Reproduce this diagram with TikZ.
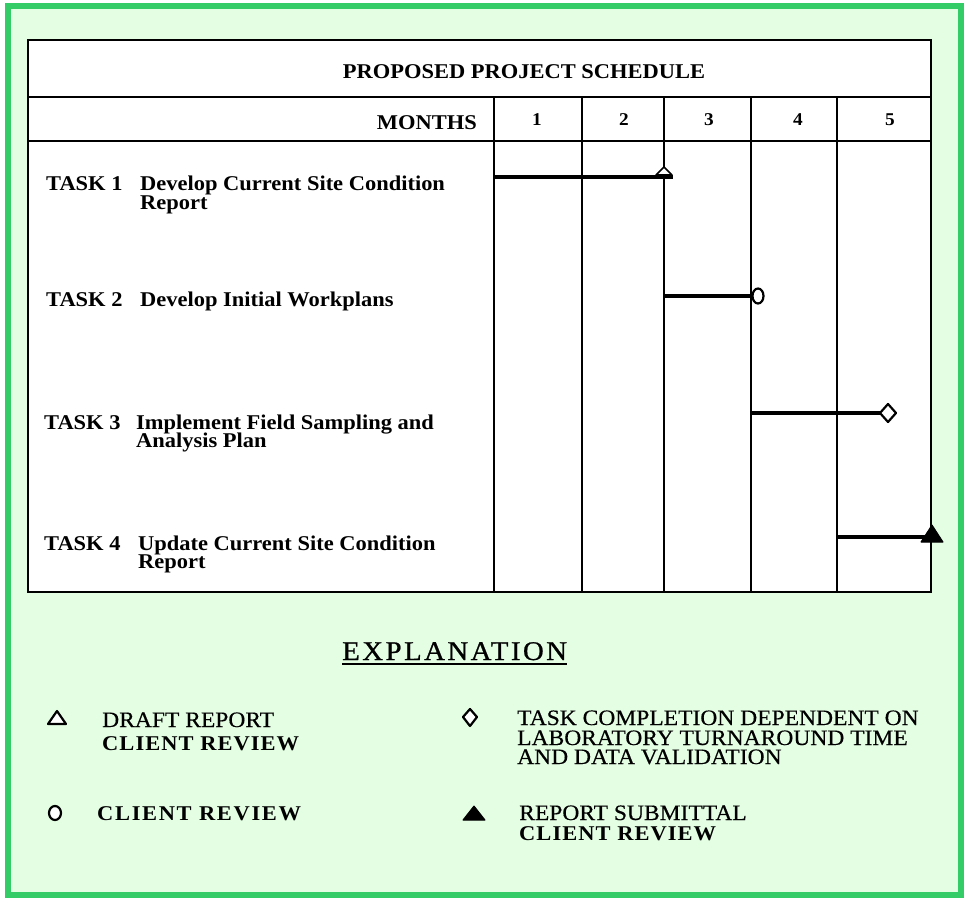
\documentclass[tikz,border=0pt]{standalone}
\usepackage{fontspec}
\setmainfont{Liberation Serif}
\newfontfamily\tfont{Liberation Serif}[FakeStretch=1.07]
\definecolor{gborder}{HTML}{33CC66}
\definecolor{gfill}{HTML}{E4FEE4}
\begin{document}
\begin{tikzpicture}[x=1pt,y=-1pt,
  gridline/.style={line width=2pt, black},
  bar/.style={line width=4.6pt, black},
  omark/.style={line width=2.2pt, black, fill=white, line join=round},
  fmark/.style={black, fill=black, line join=round, line width=1pt},
  lbl/.style={anchor=base west, inner sep=0pt, font={\tfont\bfseries\fontsize{21pt}{21pt}\selectfont}},
  firstline/.style={text depth=0pt},
  secondline/.style={text height=10pt},
  head/.style={inner sep=0pt, font={\tfont\bfseries\fontsize{21pt}{21pt}\selectfont}},
  num/.style={anchor=base, inner sep=0pt, font={\tfont\bfseries\fontsize{18pt}{18pt}\selectfont}},
  legr/.style={anchor=base west, inner sep=0pt, text depth=0pt, text height=12pt, font={\tfont\fontsize{22pt}{22pt}\selectfont\addfontfeatures{FakeBold=0.4}}},
  legb/.style={anchor=base west, inner sep=0pt, text depth=0pt, text height=12pt, font={\tfont\bfseries\fontsize{21pt}{21pt}\selectfont\addfontfeatures{LetterSpace=5}}},
]
\useasboundingbox (0,0) rectangle (967,899);
\fill[white] (0,0) rectangle (967,899);
\draw[gborder, line width=6pt, fill=gfill] (8,6) rectangle (961,895);

% table
\draw[gridline, fill=white] (28,40) rectangle (931,592);
\draw[gridline] (28,97) -- (931,97);
\draw[gridline] (28,141) -- (931,141);
\foreach \x in {494,582,664,751,837} \draw[gridline] (\x,97) -- (\x,592);

\node[head, anchor=base] (title) at (524,79) {PROPOSED PROJECT SCHEDULE};
\node[head, anchor=base east] (months) at (477,129) {MONTHS};
\node[num] (m1) at (537,125) {1};
\node[num] (m2) at (624,125) {2};
\node[num] (m3) at (709,125) {3};
\node[num] (m4) at (798,125) {4};
\node[num] (m5) at (890,125) {5};

% task labels
\node[lbl] (t1a) at (46,190) {TASK 1};
\node[lbl, firstline] (t1b) at (140,190) {Develop Current Site Condition};
\node[lbl, secondline] (t1c) at (140,209) {Report};
\node[lbl] (t2a) at (46,306) {TASK 2};
\node[lbl] (t2b) at (140,306) {Develop Initial Workplans};
\node[lbl] (t3a) at (44,429) {TASK 3};
\node[lbl, firstline] (t3b) at (136,429) {Implement Field Sampling and};
\node[lbl, secondline] (t3c) at (136,447) {Analysis Plan};
\node[lbl] (t4a) at (44,550) {TASK 4};
\node[lbl, firstline] (t4b) at (138,550) {Update Current Site Condition};
\node[lbl, secondline] (t4c) at (138,568) {Report};

% bars
\coordinate (b1s) at (494,177); \coordinate (b1e) at (673,177);
\coordinate (b2s) at (664,296); \coordinate (b2e) at (752,296);
\coordinate (b3s) at (751,413); \coordinate (b3e) at (881,413);
\coordinate (b4s) at (837,537); \coordinate (b4e) at (926,537);
\draw[bar] (b1s) -- (b1e);
\draw[bar] (b2s) -- (b2e);
\draw[bar] (b3s) -- (b3e);
\draw[bar] (b4s) -- (b4e);

% markers on bars
\draw[omark, line width=1.6pt] (664,167) -- (672,175) -- (656,175) -- cycle;
\draw[omark] (758,296) ellipse [x radius=5.5, y radius=7.5];
\draw[omark] (880,413) -- (888,404) -- (896,413) -- (888,422) -- cycle;
\draw[fmark] (932,525) -- (943,542) -- (921,542) -- cycle;

% explanation
\node[anchor=base west, inner sep=0pt, font={\tfont\fontsize{27pt}{27pt}\selectfont\addfontfeatures{LetterSpace=9,FakeBold=0.8}}] (expl) at (342,660) {EXPLANATION};
\draw[line width=2.2pt] ([yshift=-4pt]expl.base west) -- ([yshift=-4pt]expl.base east);

% legend markers
\draw[omark] (57,711) -- (66,724) -- (48,724) -- cycle;
\draw[omark] (55,813) ellipse [x radius=6, y radius=7];
\draw[omark] (463,717) -- (470,709) -- (477,717) -- (470,726) -- cycle;
\draw[fmark] (474,806) -- (485,820) -- (463,820) -- cycle;

% legend texts
\node[legr] (lt1) at (102,727) {DRAFT REPORT};
\node[legb] (lt2) at (102,750) {CLIENT REVIEW};
\node[legb, font={\tfont\bfseries\fontsize{21pt}{21pt}\selectfont\addfontfeatures{LetterSpace=8}}] (lc) at (97,820) {CLIENT REVIEW};
\node[legr] (ld1) at (517,725) {TASK COMPLETION DEPENDENT ON};
\node[legr] (ld2) at (517,745) {LABORATORY TURNAROUND TIME};
\node[legr] (ld3) at (517,764) {AND DATA VALIDATION};
\node[legr] (ls1) at (519,820) {REPORT SUBMITTAL};
\node[legb] (ls2) at (519,840) {CLIENT REVIEW};
\end{tikzpicture}
\end{document}
